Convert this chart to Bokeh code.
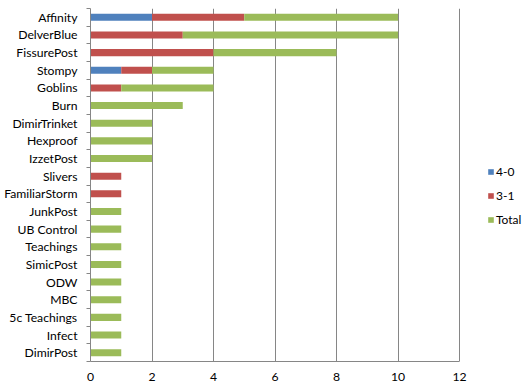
from bokeh.plotting import figure
from bokeh.models import Range1d, FixedTicker, Legend, LegendItem, ColumnDataSource
from bokeh.embed import file_html
from bokeh.resources import INLINE

categories = ["Affinity", "DelverBlue", "FissurePost", "Stompy", "Goblins", "Burn",
              "DimirTrinket", "Hexproof", "IzzetPost", "Slivers", "FamiliarStorm",
              "JunkPost", "UB Control", "Teachings", "SimicPost", "ODW", "MBC",
              "5c Teachings", "Infect", "DimirPost"]
s_40 =    [2, 0, 0, 1, 0, 0, 0, 0, 0, 0, 0, 0, 0, 0, 0, 0, 0, 0, 0, 0]
s_31 =    [3, 3, 4, 1, 1, 0, 0, 0, 0, 1, 1, 0, 0, 0, 0, 0, 0, 0, 0, 0]
s_total = [5, 7, 4, 2, 3, 3, 2, 2, 2, 0, 0, 1, 1, 1, 1, 1, 1, 1, 1, 1]
series_names = ["4-0", "3-1", "Total"]
colors = ["#4F81BD", "#C0504D", "#9BBB59"]
x_ticks = [0, 2, 4, 6, 8, 10, 12]

n = len(categories)
ypos = [n - 0.5 - i for i in range(n)]
src = ColumnDataSource(dict(y=ypos, a=s_40, b=s_31, c=s_total))

FONT = "Lato"
FS = "12.2px"
W, H, L, R = 527, 388, 90, 0
x_max = 12 * (W - L - R) / 369.0   # leaves room for the legend right of 12
p = figure(width=W, height=H, output_backend="svg", toolbar_location=None,
           x_range=Range1d(0, x_max), y_range=Range1d(0, n),
           min_border_left=L, min_border_right=R, min_border_top=8, min_border_bottom=27)
p.outline_line_color = None
p.background_fill_color = "white"

renderers = p.hbar_stack(["a", "b", "c"], y="y", height=0.4, color=colors, source=src,
                         line_color=None)

p.xaxis.ticker = FixedTicker(ticks=x_ticks)
p.xaxis.bounds = (0, 12)
p.xaxis.major_tick_out = 0
p.xaxis.major_tick_in = 0
p.xaxis.minor_tick_out = 0
p.xaxis.axis_line_color = "#868686"
p.xaxis.major_label_text_font = FONT
p.xaxis.major_label_text_font_size = FS
p.xaxis.major_label_text_color = "black"
p.xaxis.major_label_standoff = 11

p.yaxis.ticker = FixedTicker(ticks=ypos, minor_ticks=list(range(n + 1)))
p.yaxis.major_label_overrides = {y: c for y, c in zip(ypos, categories)}
p.yaxis.major_tick_out = 0
p.yaxis.major_tick_in = 0
p.yaxis.minor_tick_out = 4
p.yaxis.minor_tick_in = 0
p.yaxis.minor_tick_line_color = "#868686"
p.yaxis.axis_line_color = "#868686"
p.yaxis.major_label_text_font = FONT
p.yaxis.major_label_text_font_size = FS
p.yaxis.major_label_text_color = "black"
p.yaxis.major_label_standoff = 9

p.xgrid.ticker = FixedTicker(ticks=x_ticks)
p.xgrid.grid_line_color = "#868686"
p.ygrid.grid_line_color = None

legend = Legend(items=[LegendItem(label=nm, renderers=[r]) for nm, r in zip(series_names, renderers)],
                location=(397, 134))
legend.glyph_width = 7
legend.glyph_height = 7
legend.label_height = 16
legend.spacing = 8
legend.label_standoff = 2
legend.padding = 0
legend.margin = 0
legend.border_line_alpha = 0
legend.background_fill_alpha = 0
legend.label_text_font = FONT
legend.label_text_font_size = "12px"
legend.label_text_color = "black"
p.add_layout(legend, "center")

open("out.html", "w").write(file_html(p, INLINE))
